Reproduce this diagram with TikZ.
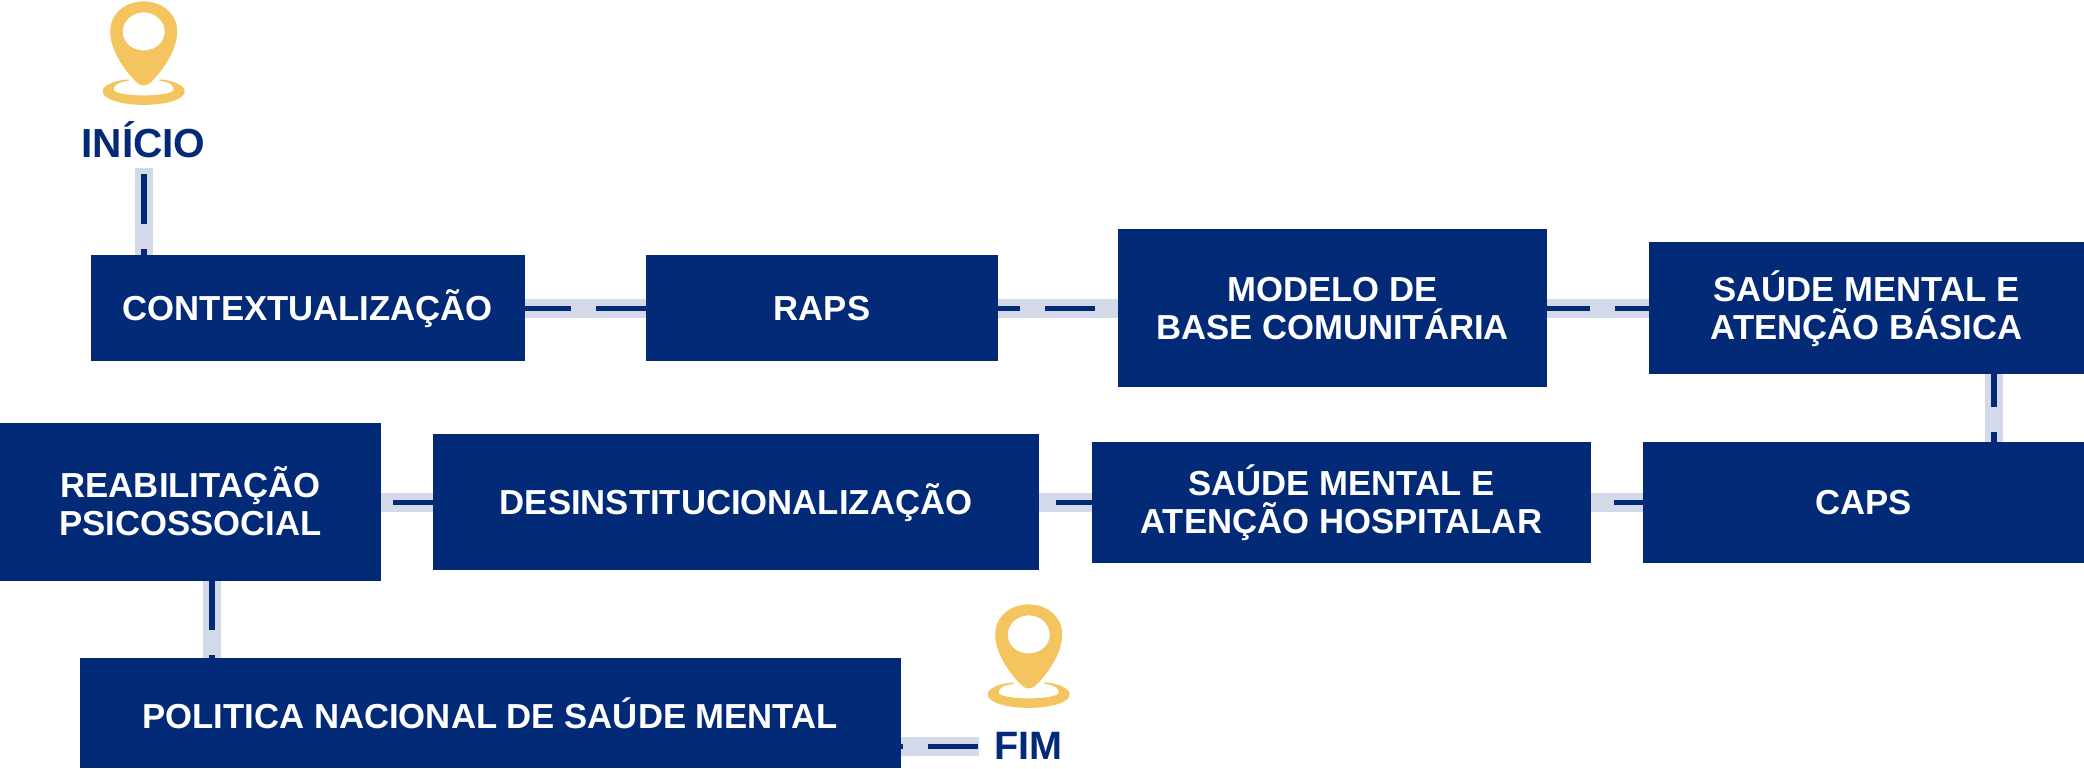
\documentclass[tikz,border=0pt]{standalone}
\usepackage{fontspec}
\setmainfont{Liberation Sans}
\definecolor{navy}{HTML}{022A76}
\definecolor{band}{HTML}{D3D9E8}
\definecolor{pinyellow}{HTML}{F4C55E}
\tikzset{
  x=1pt,y=-1pt,
  flowbox/.style 2 args={rectangle,fill=navy,draw=none,inner sep=0pt,text=white,
    font=\bfseries\fontsize{34.7}{38.6}\selectfont,align=center,
    minimum width=#1,minimum height=#2},
  oneline/.style={text height=24.4pt,text depth=0pt},
  twoline/.style={text height=63pt,text depth=0pt},
  endlabel/.style={text=navy,inner sep=0pt,font=\bfseries\fontsize{#1}{#1}\selectfont,text height=28pt,text depth=0pt},
  bandline/.style={draw=band,line width=18.5pt},
  dashline/.style={draw=navy,line width=5.5pt,dash pattern=on 50pt off 25pt,dash phase=#1},
  pinmark/.pic={
    \fill[pinyellow,even odd rule]
      (0,84) .. controls (-4,84) and (-7,81.5) .. (-10,78)
      .. controls (-22,65) and (-33.5,47) .. (-33.5,30)
      .. controls (-33.5,12) and (-18,0) .. (0,0)
      .. controls (18,0) and (33.5,12) .. (33.5,30)
      .. controls (33.5,47) and (22,65) .. (10,78)
      .. controls (7,81.5) and (4,84) .. (0,84) -- cycle
      (21,30) .. controls (21,20) and (12,11) .. (0,11)
      .. controls (-12,11) and (-21,20) .. (-21,30)
      .. controls (-21,41) and (-12,49) .. (0,49)
      .. controls (12,49) and (21,41) .. (21,30) -- cycle;
    \fill[pinyellow]
      (-15,78) .. controls (-30,79) and (-41,84) .. (-41,90)
      .. controls (-41,98) and (-22,103.5) .. (0,103.5)
      .. controls (22,103.5) and (41,98) .. (41,90)
      .. controls (41,84) and (30,79) .. (16,78)
      -- (16,79.5) .. controls (26,80.5) and (31,84.5) .. (30,88.5)
      .. controls (29,92) and (14,94) .. (0,94)
      .. controls (-14,94) and (-29,92) .. (-30,88.5)
      .. controls (-31,84.5) and (-26,80.5) .. (-15,79.5) -- cycle;
  }
}
\begin{document}
\begin{tikzpicture}
\useasboundingbox (0,-0.4) rectangle (2084,767.6);
% boxes
\node[flowbox={434.5pt}{105.8pt},oneline] (ctx) at (307.75,307.9) {CONTEXTUALIZAÇÃO};
\node[flowbox={352pt}{105.8pt},oneline] (raps) at (822,307.9) {RAPS};
\node[flowbox={429pt}{157.8pt},twoline] (modelo) at (1332.5,307.9) {MODELO DE\\BASE COMUNITÁRIA};
\node[flowbox={435pt}{131.8pt},twoline] (basica) at (1866.5,307.9) {SAÚDE MENTAL E\\ATENÇÃO BÁSICA};
\node[flowbox={441pt}{121.2pt},oneline] (caps) at (1863.5,501.9) {CAPS};
\node[flowbox={498.5pt}{121.2pt},twoline] (hosp) at (1341.25,501.9) {SAÚDE MENTAL E\\ATENÇÃO HOSPITALAR};
\node[flowbox={606pt}{135.8pt},oneline] (desinst) at (736,501.9) {DESINSTITUCIONALIZAÇÃO};
\node[flowbox={381pt}{157.8pt},twoline,text height=67pt] (reab) at (190.5,501.9) {REABILITAÇÃO\\PSICOSSOCIAL};
\node[flowbox={820.5pt}{110pt},oneline,text height=30.4pt] (pol) at (490.25,712.7) {POLITICA NACIONAL DE SAÚDE MENTAL};
% end labels
\node[endlabel=40.6] (inicio) at (143.5,142.7) {INÍCIO};
\node[endlabel=39.6] (fim) at (1028.5,745) {FIM};
% pins
\pic at (143.7,1) {pinmark};
\pic at (1028.7,604) {pinmark};
% free ends
\coordinate (startlink) at (144,168);
\coordinate (fimlink) at (979,746);
\coordinate (capslink) at (1994,400);
\coordinate (pollink) at (212,620);
% connectors
\draw[bandline] (startlink) -- (startlink |- ctx.north);
\draw[dashline=69pt] (startlink) -- (startlink |- ctx.north);
\draw[bandline] (ctx) -- (raps);
\draw[dashline=4pt] (ctx) -- (raps);
\draw[bandline] (raps) -- (modelo);
\draw[dashline=28pt] (raps) -- (modelo);
\draw[bandline] (modelo) -- (basica);
\draw[dashline=7pt] (modelo) -- (basica);
\draw[bandline] (capslink |- basica.south) -- (capslink |- caps.north);
\draw[dashline=17pt] (capslink |- basica.south) -- (capslink |- caps.north);
\draw[bandline] (caps) -- (hosp);
\draw[dashline=21pt] (caps) -- (hosp);
\draw[bandline] (hosp) -- (desinst);
\draw[dashline=14pt] (hosp) -- (desinst);
\draw[bandline] (desinst) -- (reab);
\draw[dashline=10pt] (desinst) -- (reab);
\draw[bandline] (pollink |- reab.south) -- (pollink |- pol.north);
\draw[dashline=1pt] (pollink |- reab.south) -- (pollink |- pol.north);
\draw[bandline] (pol.east |- fimlink) -- (fimlink);
\draw[dashline=48pt] (pol.east |- fimlink) -- (fimlink);
\end{tikzpicture}
\end{document}
